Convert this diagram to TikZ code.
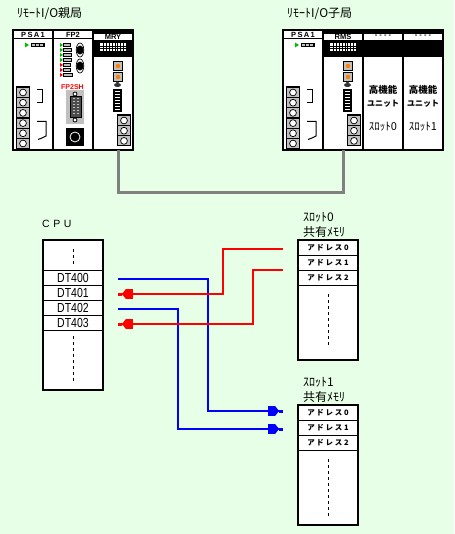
\documentclass[tikz,border=0pt]{standalone}
\usepackage{fontspec}
\setmainfont{Liberation Sans}
\newfontfamily\jpf{Noto Sans CJK JP}
\usetikzlibrary{arrows.meta,calc}
\definecolor{bgc}{HTML}{E6FFE6}
\definecolor{conngray}{HTML}{808080}
\definecolor{ledgray}{HTML}{C0C0C0}
\definecolor{orangeled}{HTML}{FF8000}
\definecolor{brightred}{HTML}{FF0000}
\definecolor{brightblue}{HTML}{0000FF}
\definecolor{brightgreenled}{HTML}{00C000}
\newcommand{\fsz}[1]{\fontsize{#1}{#1}\selectfont}
\newcommand{\tallt}[1]{\scalebox{1}[1.25]{#1}}
\newcommand{\lsp}{\hspace{1.4pt}}
\tikzset{
  x=1pt,y=-1pt,
  box/.style={draw=black,line width=2pt,fill=white,outer sep=0},
  vdash/.style={line width=1pt,dash pattern=on 3pt off 3pt},
  jp/.style={font=\jpf\fsz{12},inner sep=0,anchor=west},
  mlabel/.style={font=\bfseries\fsz{7.5},inner sep=0,text=black},
  rowtxt/.style={font=\fsz{10.5},inner sep=0,outer sep=0,draw=black,line width=1pt,fill=white,minimum width=60pt,minimum height=15pt},
  addrrow/.style={font=\jpf\bfseries\fsz{7.5},inner sep=0,outer sep=0,draw=black,line width=1pt,fill=white,minimum width=60pt,minimum height=15pt},
  redline/.style={draw=brightred,line width=2pt},
  blueline/.style={draw=brightblue,line width=2pt},
  headtip/.style={-{Rectangle[length=7pt,width=10pt]Triangle[length=4pt,width=10pt]Rectangle[length=4pt,width=1pt]}},
  link/.style={draw=conngray,line width=3pt},
}
\newcommand{\termi}[2]{%
  \fill[black] (#1,#2) rectangle ++(14,11);
  \fill[ledgray] ({#1+1},{#2+1}) rectangle ++(12,9);
  \fill[white,draw=black,line width=.7pt] ({#1+7},{#2+5.5}) circle (3.4);
}
\newcommand{\lamp}[2]{%
  \fill[black] (#1,#2) rectangle ++(10,10);
  \fill[ledgray] ({#1+1},{#2+1}) rectangle ++(8,8);
  \fill[orangeled] ({#1+5},{#2+5}) circle (2.2);
}
\newcommand{\lbar}[2]{%
  \fill[black] (#1,#2) rectangle ++(9,23);
  \foreach \i in {0,...,6}{\fill[white] ({#1+2},{#2+2+3*\i}) rectangle ++(5,1.4);}
  \fill[black!80] ({#1+4.5},{#2-4}) ellipse (3.5 and 2);
  \fill[black!80] ({#1+4.5},{#2-6.5}) circle (1.3);
}
\newcommand{\psa}[1]{%
  \fill[brightgreenled] ({#1+12},42.5) -- ({#1+16},45) -- ({#1+12},47.5) -- cycle;
  \fill[black] ({#1+18},43.5) rectangle ({#1+32},47);
  \foreach \i in {0,1,2}{\fill[ledgray] ({#1+19+4*\i},44.5) rectangle ++(3,1.5);}
  \fill[black] ({#1+3},86) rectangle ({#1+17},149);
  \foreach \i in {0,...,5}{\termi{#1+3}{87+10.2*\i}}
  \draw[line width=1pt] ({#1+24},90) -- ({#1+29},90) -- ({#1+29},103) -- ({#1+24},103);
  \draw[line width=1pt] ({#1+24},121.5) -- ({#1+33},121.5) -- ({#1+33},136) -- ({#1+29},138) -- ({#1+25},139.5);
}
\newcommand{\grid}[2]{%
  \fill[white] (#1,#2) rectangle ++(26,8);
  \foreach \i in {1,...,8}{\fill[black] ({#1+2.9*\i},#2) rectangle ++(1,8);}
  \fill[black] (#1,{#2+2.5}) rectangle ++(26,1);
  \fill[black] (#1,{#2+5}) rectangle ++(26,.8);
}
\begin{document}
\begin{tikzpicture}
\useasboundingbox (0,0) rectangle (454,534);
\fill[bgc] (0,0) rectangle (454,534);

% titles
\node[jp] (t1) at (17,14) {ﾘﾓｰﾄI/O親局};
\node[jp] (t2) at (287,14) {ﾘﾓｰﾄI/O子局};

% --- left PLC
\node[box,minimum width=120pt,minimum height=120pt,inner sep=0,anchor=north west] (plcl) at (13,30.3) {};
\draw[line width=2pt] (53,30) -- (53,150) (93,30) -- (93,150);
\fill[black] (14,38) rectangle (92,39.5);
\fill[black] (94,31) rectangle (132,34);
\fill[black] (94,40) rectangle (132,57);
\node[mlabel] (l1) at (33,34.7) {P\lsp S\lsp A\lsp 1};
\node[mlabel] (l2) at (73,34.7) {FP2};
\node[mlabel] (l3) at (113,37) {MRY};
\psa{13}
\foreach \y/\w/\c in {45/8/brightgreenled,50/9/brightgreenled,55/9/brightgreenled,60/9/brightgreenled,65/8/brightred,70/8/brightred,75/10/brightred}{
  \fill[\c] (60,\y-2) -- (63,\y) -- (60,\y+2) -- cycle;
  \fill[black] (63,\y-1.7) rectangle ++(\w,3.4);
  \fill[ledgray] (64,\y-.6) rectangle ++(\w-2,1.2);
}
\foreach \y in {50,66}{
  \draw[line width=.7pt,fill=white] (80,\y) ellipse (3.8 and 7);
  \fill[black] (80,\y) ellipse (3.6 and 4.5);
}
\node[font=\bfseries\fsz{7},text=brightred,inner sep=0] (fp) at (72.5,87) {FP2SH};
\fill[ledgray] (66,90) rectangle (84,124);
\fill[black!70,draw=black] (70,96) rectangle (81,117);
\foreach \y in {98,101,104,107,110,113}{\fill[ledgray] (73,\y) rectangle ++(1.5,1.5);\fill[ledgray] (77,\y) rectangle ++(1.5,1.5);}
\draw[line width=.8pt,fill=white] (75,94) circle (2);
\draw[line width=.8pt,fill=white] (75,120) circle (2);
\fill[black] (66,128) rectangle (84,146);
\draw[line width=.8pt,draw=white,fill=black] (75,137) circle (5);
\grid{100}{43.5}
\lamp{113}{61}
\lamp{113}{72}
\lbar{113}{89}
\fill[black] (117,114) rectangle (131,146);
\foreach \i in {0,1,2}{\termi{117}{115+10.2*\i}}

% --- right PLC
\node[box,minimum width=160pt,minimum height=120pt,inner sep=0,anchor=north west] (plcr) at (283,30.3) {};
\draw[line width=2pt] (323,30) -- (323,150) (363,30) -- (363,150) (403,30) -- (403,150);
\fill[black] (284,38) rectangle (322,39.5);
\fill[black] (324,31) rectangle (442,34);
\fill[black] (324,40) rectangle (442,57);
\node[mlabel] (r1) at (303,34.7) {P\lsp S\lsp A\lsp 1};
\node[mlabel] (r2) at (343,37) {RMS};
\node[mlabel] (r3) at (383,36.5) {- - - -};
\node[mlabel] (r4) at (423,36.5) {- - - -};
\psa{283}
\grid{330}{43.5}
\lamp{343}{61}
\lamp{343}{72}
\lbar{343}{89}
\fill[black] (347,114) rectangle (361,146);
\foreach \i in {0,1,2}{\termi{347}{115+10.2*\i}}
\foreach \x/\s in {383/0,423/1}{
  \node[font=\jpf\bfseries\fsz{9.5},inner sep=0] at (\x,90) {高機能};
  \node[font=\jpf\bfseries\fsz{8},inner sep=0] at (\x,103.5) {ユニット};
  \node[font=\jpf\fsz{11},inner sep=0] at (\x,127) {ｽﾛｯﾄ\s};
}

% link
\coordinate (mryport) at (118,150);
\coordinate (rmsport) at (343,150);
\draw[link] (mryport) -- ++(0,43) -| (rmsport);

% --- CPU
\node[font=\fsz{10.5},inner sep=0,anchor=west] (cpu) at (42,224) {C\,\,P\,\,U};
\node[box,minimum width=60pt,minimum height=150pt,inner sep=0,anchor=north west] (cpubox) at (43,240) {};
\node[rowtxt,anchor=north west] (dt400) at (43,270) {\tallt{DT400}};
\node[rowtxt,anchor=north west] (dt401) at (43,285) {\tallt{DT401}};
\node[rowtxt,anchor=north west] (dt402) at (43,300) {\tallt{DT402}};
\node[rowtxt,anchor=north west] (dt403) at (43,315) {\tallt{DT403}};
\draw[box,fill=none] (43,240) rectangle (103,390);
\draw[vdash] (73,249) -- (73,264);
\draw[vdash] (73,336) -- (73,381);

% --- slot 0
\node[jp] (s0a) at (303,217) {ｽﾛｯﾄ0};
\node[jp] (s0b) at (303,232) {共有ﾒﾓﾘ};
\node[box,minimum width=60pt,minimum height=120pt,inner sep=0,anchor=north west] (m0) at (298,240) {};
\node[addrrow,anchor=north west] (a00) at (298,240) {ア ド レ ス 0};
\node[addrrow,anchor=north west] (a01) at (298,255) {ア ド レ ス 1};
\node[addrrow,anchor=north west] (a02) at (298,270) {ア ド レ ス 2};
\draw[box,fill=none] (298,240) rectangle (358,360);
\draw[vdash] (328,294) -- (328,346);

% --- slot 1
\node[jp] (s1a) at (303,382) {ｽﾛｯﾄ1};
\node[jp] (s1b) at (303,397) {共有ﾒﾓﾘ};
\node[box,minimum width=60pt,minimum height=120pt,inner sep=0,anchor=north west] (m1) at (298,405) {};
\node[addrrow,anchor=north west] (a10) at (298,405) {ア ド レ ス 0};
\node[addrrow,anchor=north west] (a11) at (298,420) {ア ド レ ス 1};
\node[addrrow,anchor=north west] (a12) at (298,435) {ア ド レ ス 2};
\draw[box,fill=none] (298,405) rectangle (358,525);
\draw[vdash] (328,459) -- (328,516);

% --- connectors
\coordinate (b0s) at ($(dt400.east)+(15,1.5)$);
\coordinate (b1s) at ($(dt402.east)+(15,1.5)$);
\coordinate (r0e) at ($(dt401.east)+(15,1.5)$);
\coordinate (r1e) at ($(dt403.east)+(15,1.5)$);
\coordinate (r0s) at ($(a00.west)+(-15,1.5)$);
\coordinate (r1s) at ($(a01.west)+(-15,7.5)$);
\coordinate (b0e) at ($(a10.west)+(-15,-1.5)$);
\coordinate (b1e) at ($(a11.west)+(-15,1.5)$);
\draw[blueline,headtip] (b0s) -| (208,345) |- (b0e);
\draw[blueline,headtip] (b1s) -| (178,370) |- (b1e);
\draw[redline,headtip] (r0s) -| (223,270) |- (r0e);
\draw[redline,headtip] (r1s) -| (253,300) |- (r1e);
\end{tikzpicture}
\end{document}
